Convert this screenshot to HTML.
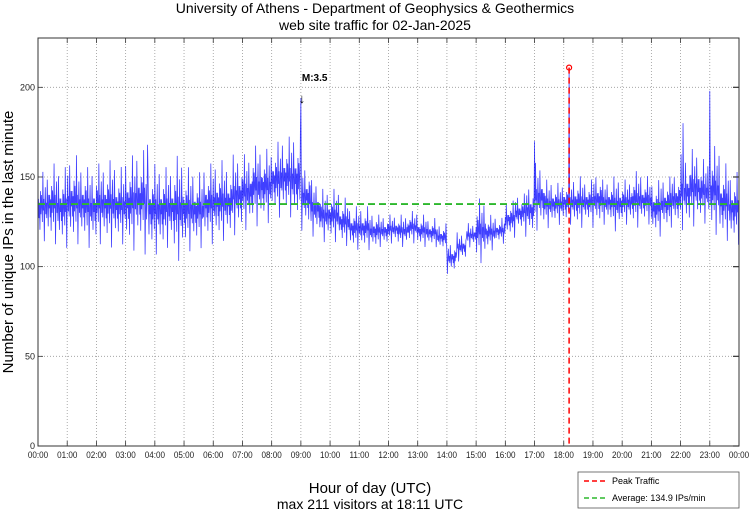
<!DOCTYPE html>
<html><head><meta charset="utf-8"><style>
body{margin:0;background:#fff;}
svg text{font-family:"Liberation Sans",sans-serif;}
</style></head><body>
<svg id="chart" width="750" height="511" viewBox="0 0 750 511" xmlns="http://www.w3.org/2000/svg">
<rect width="750" height="511" fill="#fff"/>
<text x="375" y="13" font-size="14" text-anchor="middle">University of Athens - Department of Geophysics &amp; Geothermics</text>
<text x="375" y="30" font-size="14" text-anchor="middle">web site traffic for 02-Jan-2025</text>
<g id="grid"></g>
<g id="series"></g>
<g id="overlay"></g>
<rect x="38" y="38" width="701" height="408" fill="none" stroke="#333" stroke-width="1"/>
<g id="axes"></g>
<text transform="translate(13,242) rotate(-90)" font-size="15" text-anchor="middle">Number of unique IPs in the last minute</text>
<text x="370" y="493" font-size="15" text-anchor="middle">Hour of day (UTC)</text>
<text x="370" y="509" font-size="14" text-anchor="middle">max 211 visitors at 18:11 UTC</text>
<g>
<rect x="578" y="472" width="161" height="36" fill="#fff" stroke="#555" stroke-width="0.8"/>
<line x1="584" y1="481" x2="608" y2="481" stroke="#f00" stroke-width="1.5" stroke-dasharray="5,3"/>
<text x="612" y="484" font-size="9">Peak Traffic</text>
<line x1="584" y1="498" x2="608" y2="498" stroke="#2db82d" stroke-width="1.5" stroke-dasharray="5,3"/>
<text x="612" y="501" font-size="9">Average: 134.9 IPs/min</text>
</g>
</svg>
<script>
const hourLabels=["00:00","01:00","02:00","03:00","04:00","05:00","06:00","07:00","08:00","09:00","10:00","11:00","12:00","13:00","14:00","15:00","16:00","17:00","18:00","19:00","20:00","21:00","22:00","23:00","00:00"];
const yTicks=[0,50,100,150,200];
// per-20-minute low / high envelope of visitors
const binLow=[112,110,108,108,110,108,110,108,110,106,108,104,104,108,100,106,108,110,110,112,115,118,120,122,125,125,120,118,115,112,112,110,108,108,108,110,112,110,112,110,110,108,95,102,110,100,108,112,115,118,115,118,120,122,122,120,122,120,122,118,122,120,122,115,118,120,118,120,122,115,112,110];
const binHigh=[155,160,158,165,160,158,160,162,158,165,168,160,160,158,165,158,155,160,162,160,165,165,170,168,172,175,178,160,150,145,145,140,135,135,132,130,130,130,132,130,128,125,115,120,125,140,130,128,138,142,148,160,150,148,150,152,150,155,150,152,150,155,152,150,152,155,165,168,162,170,160,155];
const spikeMinutes=[225,540,1020,1091,1325,1380];
const spikeValues=[168,194,170,211,180,198];
const average=134.9;
const peakMinute=1091, peakValue=211;

const X0=38,X1=739,Y0=446,Y1=38,YMAX=227.5;
const xs=m=>X0+(X1-X0)*m/1440;
const ys=v=>Y0-(Y0-Y1)*v/YMAX;
const NS="http://www.w3.org/2000/svg";
function mk(tag,attrs,parent){const e=document.createElementNS(NS,tag);for(const k in attrs)e.setAttribute(k,attrs[k]);parent.appendChild(e);return e;}
const grid=document.getElementById('grid'),axes=document.getElementById('axes'),series=document.getElementById('series'),ov=document.getElementById('overlay');

hourLabels.forEach((l,i)=>{
  const x=xs(i*60);
  if(i>0&&i<24){const g=mk('line',{x1:x,y1:Y1,x2:x,y2:Y0,stroke:'#999','stroke-width':0.8,'stroke-dasharray':'1,2'},grid);
  
  }
  const t=mk('line',{x1:x,y1:Y0,x2:x,y2:Y0-5,stroke:'#333','stroke-width':0.8},axes);
  
  
  const t2=mk('line',{x1:x,y1:Y1,x2:x,y2:Y1+5,stroke:'#333','stroke-width':0.8},axes);
  
  
  const tx=mk('text',{x:x,y:458,'font-size':9,'text-anchor':'middle',fill:'#222',transform:`translate(${x},0) scale(0.9,1) translate(${-x},0)`},axes);
  tx.textContent=l;
  
  
});
yTicks.forEach(v=>{
  const y=ys(v);
  if(v>0){const g=mk('line',{x1:X0,y1:y,x2:X1,y2:y,stroke:'#999','stroke-width':0.8,'stroke-dasharray':'1,2'},grid);
  
  }
  const t=mk('line',{x1:X0,y1:y,x2:X0+5,y2:y,stroke:'#333','stroke-width':0.8},axes);
  
  
  const t2=mk('line',{x1:X1,y1:y,x2:X1-6,y2:y,stroke:'#333','stroke-width':1.2},axes);
  
  
  const tx=mk('text',{x:X0-3,y:y+3,'font-size':9,'text-anchor':'end',fill:'#222'},axes);
  tx.textContent=v;
  
  
});

// fixed zig-zag pattern within each bin (rendering style)
const pat=[0.45,0.6,0.35,0.55,0.2,0.7,0.4,0.65,0.5,0.3,0.95,0.45,0.6,0.05,0.5,0.75,0.4,0.55,0.35,0.85,0.5,0.25,0.6];
let pts=[];
for(let m=0;m<1440;m++){
  const b=Math.floor(m/20);
  let v=binLow[b]+(binHigh[b]-binLow[b])*pat[m%pat.length];
  const si=spikeMinutes.indexOf(m); if(si>=0)v=spikeValues[si];
  pts.push(xs(m).toFixed(2)+','+ys(v).toFixed(2));
}
const pl=mk('polyline',{points:pts.join(' '),fill:'none',stroke:'#0000ff','stroke-width':0.8,'stroke-opacity':0.75},series);



const avg=mk('line',{x1:X0,y1:ys(average),x2:X1,y2:ys(average),stroke:'#2db82d','stroke-width':1.8,'stroke-dasharray':'7,4'},ov);


const pk=mk('line',{x1:xs(peakMinute),y1:ys(peakValue),x2:xs(peakMinute),y2:Y0,stroke:'#f00','stroke-width':1.5,'stroke-dasharray':'6,4'},ov);


const pc=mk('circle',{cx:xs(peakMinute),cy:ys(peakValue),r:2.5,fill:'none',stroke:'#f00','stroke-width':1.2},ov);


const ma=mk('text',{x:xs(540)+1,y:ys(194)-17,'font-size':10,'font-weight':'bold'},ov);
ma.textContent='M:3.5';


const ar=mk('text',{x:xs(540)+1,y:ys(194)+5,'font-size':13,'text-anchor':'middle'},ov);
ar.textContent='↓';


</script>
</body></html>
